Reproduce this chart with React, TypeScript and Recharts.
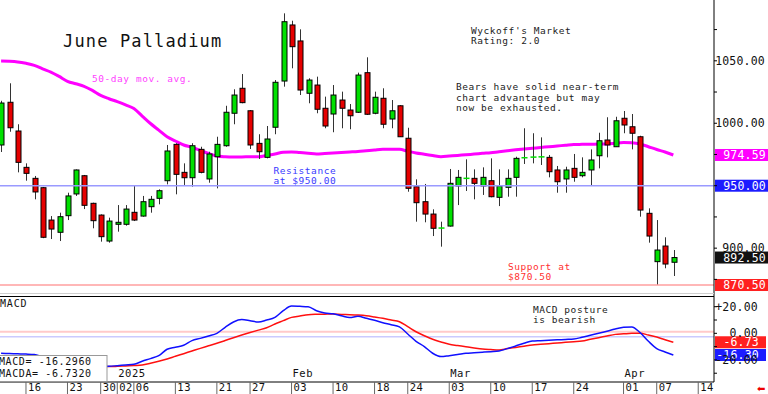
import React from 'react';
import { ComposedChart, Bar, Line, XAxis, YAxis, ReferenceLine } from 'recharts';

const opens = [982.6,1016.8,993.8,964.7,955.9,948.4,922.5,912.7,926,943.4,958,935.9,926.5,905.7,919.1,919.1,928.7,925.7,933.2,939.9,954,983.1,960.7,956.4,979.1,955.4,973.2,982,1008,1028,1010,983.9,972.7,996.8,1033.8,1078.7,1065.9,1024,1030.6,1012,1007.4,1018.6,1010.6,1008.8,1040.5,1008,1020,1003.4,1014,988,949.2,937.2,927.3,915.6,917.7,949.8,955.6,955.9,949.8,954,940.7,948.7,956.7,972.2,972.5,972.8,972.7,962.6,955.4,963.9,958,962.6,974,986.6,981.2,1004,997.2,989.2,927.9,889.2,901.7,888.7];
const highs = [1018,1032,999.2,967.9,957.8,949,925.7,928.4,944.4,963,958.6,936.4,927,924.4,934.5,934.5,950.5,941.8,941.8,947.1,982.6,984,967.9,984,981.2,977.2,989.2,1014,1027.2,1039.4,1010.6,991.2,997.8,1034.6,1088,1082.1,1075.2,1036,1037.3,1021.3,1030.6,1025.3,1015.4,1040.5,1052.8,1025.3,1028,1018.6,1014.5,996.4,955.1,951.4,931.1,921.2,963.4,962.6,971.1,963.1,964.7,971.9,963.1,963.1,973.2,996,992,988.7,974.6,965.8,965.2,975.4,972.7,979.1,992.4,1004.8,1005.2,1009.8,1007.4,990,931.9,922.5,908.7,898.5];
const lows = [977,993.2,960.7,954,939.1,908,907.3,905.7,922.5,941.8,931.3,915.9,905.2,904.4,913.2,918,921.7,925.2,928.4,935.1,951.1,943.1,950.6,949.2,959.9,952.4,947.9,981.2,999.2,1016,979.4,971.4,971.9,991.2,1029.3,1044,1022.6,1016,1008,996,992.8,996,995.2,1008.2,1006.6,1007.2,996,996,989,945.2,921.2,920.7,909.7,901.2,917.3,934.5,945.8,939.1,942.6,940.7,933.7,941.2,941.2,967.4,967.9,966.6,956.7,944.4,944.4,953.2,956.7,949.8,963.9,972.7,981.2,992,979.1,925.2,904.4,870.5,883.9,877.7];
const closes = [1016.2,996.4,968.7,959.9,945,908.7,915.3,925.2,941.8,962.6,934.3,922,909.2,921.7,920.7,931.3,922.5,937.2,939.1,946,977.8,959.1,956.4,982,960.7,975.4,983.1,1008.8,1022.6,1016.5,982.6,977.2,987.4,1032.8,1081.3,1061.3,1026.6,1034.6,1011.2,997.8,1022.6,1012,1006,1038.6,1007.2,1020.8,999.2,1010,989.2,947.9,936.4,927.3,915.9,916.1,951.9,956.7,955.9,951.9,956.7,941.2,949.8,955.9,971.9,972.4,972.9,973.1,961.2,953.2,962.6,956.7,960.7,970.6,986,982.6,1002,998.6,992,930.5,909.7,898.5,887.3,892.5];
const ma50 = [1049.8,1049.6,1049.1,1048,1046.4,1043.6,1041,1037.5,1033.6,1031.6,1029.6,1026.3,1022.3,1019.6,1017.3,1014.7,1011.8,1005.8,999.8,994.5,989.2,985.8,982.6,980.8,978.2,975.8,973.8,973.2,973,973,973.2,973.2,974.3,975.4,976.8,977,976.5,976,975.4,975.8,976.2,976.6,977,977.4,978,978.6,979.1,979.1,979.1,977.6,976.2,975.2,974.2,973.2,973.7,974.2,974.8,975.3,975.9,976.4,977.2,977.9,978.7,979.4,980,980.6,981.2,981.8,982.4,983,983.1,983.2,983.3,983.4,984,984.6,984.4,983.4,981.2,979,977,974.59];
const macdLine = [-15,-15.2,-15.4,-15.6,-16,-17.5,-19,-20.5,-22,-23,-24,-24.7,-25,-24.8,-24.3,-23.8,-23.3,-21,-19,-16.8,-12,-10.5,-9,-5.5,-3.8,-2,0,4.5,8.5,10.3,9.5,8.5,10,12,17,20.5,20.3,20,17,15.3,14.7,13.2,11.8,12.8,11.3,9.8,8,6.5,4.8,-0.5,-6,-10,-15,-17.5,-16.8,-16,-15,-14.6,-14.2,-13.8,-13.3,-11.5,-9.5,-7.5,-5.8,-5.5,-5.2,-4.9,-4.6,-4.3,-3,-1.5,0,1.6,3.2,4.5,4.8,0.5,-6,-11.5,-14,-16.3];
const macdAvg = [-19,-19.5,-20,-20.5,-21,-21.5,-22,-22.5,-23,-23.5,-24,-24.5,-25,-25,-24.8,-24.5,-24.2,-23.8,-22.5,-21,-19.3,-17.3,-15.3,-13.3,-11.3,-9.4,-7.5,-5.4,-3.3,-1.3,0.6,2.4,4.2,7,9.5,12,13,14,14.3,14.4,14.5,14.2,14,13.7,13.2,12.3,11.3,10,8.7,5,1.2,-1.8,-4.5,-6.5,-8.3,-9.2,-10.1,-11,-11.8,-12.2,-12.5,-11.5,-10.6,-9.7,-8.8,-8.3,-7.8,-7.3,-6.8,-6.3,-5.8,-4.5,-3.3,-2,-0.8,-0.4,0,0,-1.3,-2.8,-4.8,-6.73];

const dayTickIndex = [3,8,12,14,16,21,26,30,35,40,45,49,54,59,64,69,75,79,84];
const dayLabels = ['16','23','30','02','06','13','21','27','03','10','18','24','03','10','17','24','01','07','14'];
const monthTickIndex = [14,35,54,75];
const monthLabels = ['2025','Feb','Mar','Apr'];

const priceTicks = [875,900,925,950,975,1000,1025,1050,1075];
const priceLabelTicks = [900,1000,1050];
const macdTicks = [-30,-20,-10,0,10,20];
const macdLabelTicks = [20,0,-20];

const maLast = 974.59;
const resistance = 950;
const support = 870.5;
const lastClose = 892.5;
const macdLast = -16.3;
const macdaLast = -6.73;
const macdLegend = ['MACD=  -16.2960', 'MACDA=  -6.7320'];

const priceData = opens.map((o, i) => ({ i, o, h: highs[i], l: lows[i], c: closes[i], ma: ma50[i], range: [lows[i], highs[i]] }));
const macdData = macdLine.map((m, i) => ({ i, m, a: macdAvg[i] }));

const MONO = '"DejaVu Sans Mono", monospace';
const X_DOMAIN: [number, number] = [-0.13, 85.9];

const Candle = (props: any) => {
  const { x, y, width, height, payload } = props;
  if (x == null || !payload || height == null) return null;
  const { o, h, l, c } = payload;
  const top = Math.min(y, y + height);
  const H = Math.abs(height);
  const cx = Math.round(x + width / 2) + 0.5;
  const k = H / (h - l || 1);
  const yO = top + (h - o) * k;
  const yC = top + (h - c) * k;
  const bTop = Math.min(yO, yC);
  const bH = Math.abs(yO - yC);
  const up = c >= o;
  const fill = up ? '#00e000' : '#e60000';
  return (
    <g>
      <line x1={cx} x2={cx} y1={top} y2={top + H} stroke="#333" strokeWidth={1} />
      {bH < 1.5 ? (
        <rect x={cx - 3} y={bTop - 0.75} width={6} height={1.5} fill={fill} />
      ) : (
        <rect x={cx - 2.5} y={bTop} width={5} height={bH} fill={fill} stroke="#000" strokeWidth={1} />
      )}
    </g>
  );
};

const Badge = (props: any) => {
  const { viewBox, text, bg, right = 766, w = 54 } = props;
  if (!viewBox) return null;
  const x0 = viewBox.x + viewBox.width + 1;
  const yc = viewBox.y;
  return (
    <g>
      <rect x={x0} y={yc - 6} width={w} height={12} fill={bg} />
      <text x={right} y={yc + 4} textAnchor="end" fill="#fff" fontFamily={MONO} fontSize={11.5} letterSpacing={0.2}>{text}</text>
    </g>
  );
};

const PriceTick = (props: any) => {
  const { x, y, payload } = props;
  if (!priceLabelTicks.includes(payload.value)) return <g />;
  return (
    <text x={x + 48} y={y + 4} textAnchor="end" fill="#111" fontFamily={MONO} fontSize={11.5} letterSpacing={0.2}>
      {payload.value.toFixed(2)}
    </text>
  );
};

const MacdTick = (props: any) => {
  const { x, y, payload } = props;
  if (!macdLabelTicks.includes(payload.value)) return <g />;
  const v = payload.value;
  const s = (v > 0 ? '+' : '') + v.toFixed(2);
  return (
    <text x={x + 41} y={y + 4} textAnchor="end" fill="#111" fontFamily={MONO} fontSize={11.5} letterSpacing={0.2}>
      {s}
    </text>
  );
};

const DayTick = (props: any) => {
  const { x, y, payload } = props;
  const idx = dayTickIndex.indexOf(payload.value);
  const mIdx = monthTickIndex.indexOf(payload.value);
  return (
    <g>
      {idx >= 0 && (
        <text x={x + 2} y={y - 3} fill="#111" fontFamily={MONO} fontSize={10.5} letterSpacing={0.5}>{dayLabels[idx]}</text>
      )}
      {mIdx >= 0 && (
        <text x={x + 1} y={y - 17} fill="#111" fontFamily={MONO} fontSize={10.5} letterSpacing={0.5}>{monthLabels[mIdx]}</text>
      )}
    </g>
  );
};

const T = (p: any) => (
  <text x={p.x} y={p.y} fill={p.fill || '#222'} fontFamily={MONO} fontSize={p.size || 9.5} letterSpacing={p.ls != null ? p.ls : 0.55}>
    {p.children}
  </text>
);

export default function App() {
  return (
    <div style={{ position: 'absolute', left: 0, top: 0, width: 768, height: 394, background: '#fff', overflow: 'hidden' }}>
      <div style={{ position: 'absolute', left: 0, top: 0 }}>
        <ComposedChart width={768} height={296} data={priceData} margin={{ top: 0, right: 0, bottom: 0, left: 0 }}>
          <XAxis dataKey="i" type="number" domain={X_DOMAIN} allowDataOverflow hide />
          <YAxis
            orientation="right"
            width={54}
            domain={[861.7, 1098.68]}
            allowDataOverflow
            ticks={priceTicks}
            interval={0}
            tick={<PriceTick />}
            tickSize={3}
            tickMargin={0}
            axisLine={{ stroke: '#000' }}
            tickLine={{ stroke: '#000' }}
          />
          <ReferenceLine y={resistance} stroke="#9a9aff" strokeWidth={1.5} label={<Badge text={resistance.toFixed(2)} bg="#1c1cff" />} />
          <ReferenceLine y={support} stroke="#ff9f9f" strokeWidth={1.5} label={<Badge text={support.toFixed(2)} bg="#ff2020" />} />
          <Line dataKey="ma" stroke="#ff00ff" strokeWidth={3} dot={false} activeDot={false} type="monotone" isAnimationActive={false} zIndex={250} />
          <Bar dataKey="range" barSize={5} shape={<Candle />} activeBar={false} isAnimationActive={false} />
          <ReferenceLine y={maLast} stroke="none" label={<Badge text={maLast.toFixed(2)} bg="#ff00ff" />} />
          <ReferenceLine y={lastClose} stroke="none" label={<Badge text={lastClose.toFixed(2)} bg="#111" />} />
        </ComposedChart>
      </div>
      <div style={{ position: 'absolute', left: 0, top: 296 }}>
        <ComposedChart width={768} height={98} data={macdData} margin={{ top: 0, right: 0, bottom: 0, left: 0 }}>
          <XAxis
            dataKey="i"
            type="number"
            domain={X_DOMAIN}
            allowDataOverflow
            ticks={dayTickIndex}
            interval={0}
            tick={<DayTick />}
            tickSize={12}
            tickMargin={0}
            height={12}
            axisLine={{ stroke: '#000' }}
            tickLine={{ stroke: '#666' }}
          />
          <YAxis
            orientation="right"
            width={54}
            domain={[-36.6, 28.05]}
            allowDataOverflow
            ticks={macdTicks}
            interval={0}
            tick={<MacdTick />}
            tickSize={3}
            tickMargin={0}
            axisLine={{ stroke: '#000' }}
            tickLine={{ stroke: '#000' }}
          />
          <ReferenceLine y={1.2} stroke="#ffcaca" strokeWidth={2} />
          <ReferenceLine y={-2.5} stroke="#cacaff" strokeWidth={1.5} />
          <Line dataKey="a" stroke="#ff1010" strokeWidth={1.5} dot={false} activeDot={false} type="monotone" isAnimationActive={false} />
          <Line dataKey="m" stroke="#1010ff" strokeWidth={1.5} dot={false} activeDot={false} type="monotone" isAnimationActive={false} />
          <ReferenceLine y={macdaLast} stroke="none" label={<Badge text={macdaLast.toFixed(2)} bg="#ff2020" right={759} w={51} />} />
          <ReferenceLine y={macdLast} stroke="none" label={<Badge text={macdLast.toFixed(2)} bg="#1c1cff" right={759} w={51} />} />
        </ComposedChart>
      </div>
      <svg width={768} height={394} style={{ position: 'absolute', left: 0, top: 0, pointerEvents: 'none' }}>
        <line x1={0} x2={714} y1={293.5} y2={293.5} stroke="#cfcfcf" strokeWidth={1} />
        <line x1={0} x2={714} y1={296.5} y2={296.5} stroke="#000" strokeWidth={1} />
        <T x={63} y={47} size={17} ls={1.15} fill="#111">June Palladium</T>
        <T x={92} y={82} fill="#ff44ff">50-day mov. avg.</T>
        <T x={471} y={33.5}>Wyckoff's Market</T>
        <T x={471} y={44}>Rating: 2.0</T>
        <T x={456} y={90}>Bears have solid near-term</T>
        <T x={456} y={100.5}>chart advantage but may</T>
        <T x={456} y={111}>now be exhausted.</T>
        <T x={273.5} y={173.5} fill="#3a3aff">Resistance</T>
        <T x={273.5} y={183.5} fill="#3a3aff">at $950.00</T>
        <T x={508} y={270} fill="#ff3030">Support at</T>
        <T x={508} y={280} fill="#ff3030">$870.50</T>
        <T x={533} y={312.5}>MACD posture</T>
        <T x={533} y={322.5}>is bearish</T>
        <T x={0} y={306.5} size={10} ls={0.8} fill="#111">MACD</T>
        <rect x={-1} y={355.5} width={108} height={26} fill="#fff" stroke="#999" strokeWidth={1} />
        <T x={-1} y={365} size={10} ls={0.6} fill="#111">{macdLegend[0]}</T>
        <T x={-1} y={376.5} size={10} ls={0.6} fill="#111">{macdLegend[1]}</T>
        <text x={757} y={392} fill="#ee0000" fontFamily="DejaVu Sans" fontSize={10}>⬅</text>
      </svg>
    </div>
  );
}
